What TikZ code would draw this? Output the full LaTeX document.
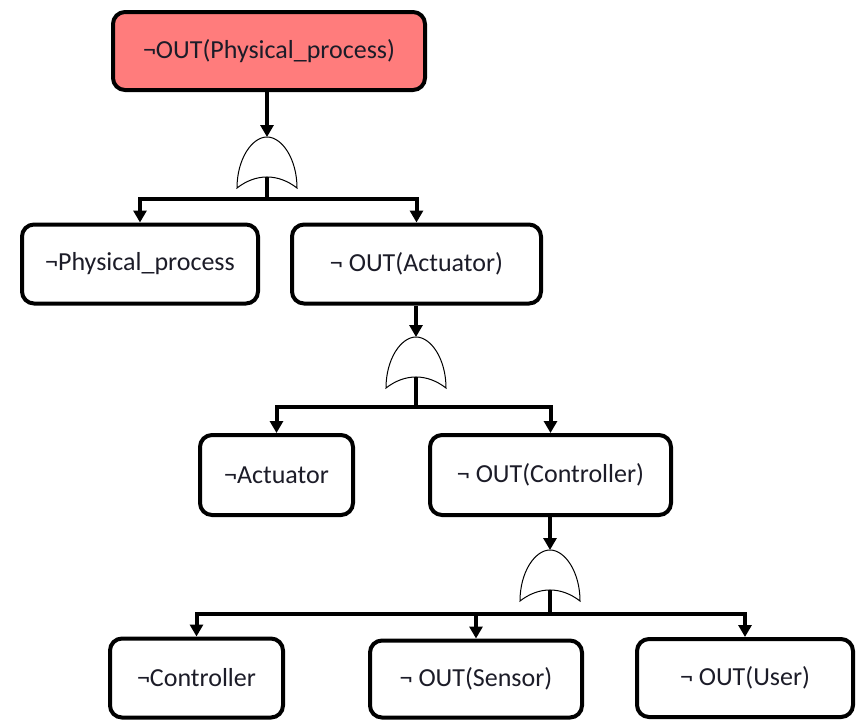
\documentclass[tikz,border=0pt]{standalone}
\usepackage{fontspec}
\setmainfont{Carlito}
\usetikzlibrary{arrows.meta}
\definecolor{topfill}{HTML}{FF7C7C}
\definecolor{txt}{HTML}{1C1C28}
\tikzset{
  box/.style={draw=black, line width=4pt, rounded corners=12pt, fill=white,
    font=\fontsize{26}{30}\selectfont, text=txt, align=center, inner sep=0pt},
  conn/.style={line width=4pt},
  arr/.style={conn, -{Triangle[length=12pt,width=13pt]}},
  orgate/.pic={
    \draw[line width=1pt, fill=white]
      (-30,51) .. controls (-30,22) and (-15,0) .. (0,0)
      .. controls (15,0) and (30,22) .. (30,51)
      .. controls (11,36.3) and (-11,36.3) .. cycle;
  }
}
\begin{document}
\begin{tikzpicture}[x=1pt,y=-1pt]
\useasboundingbox (0,0) rectangle (856,721);

% event boxes
\node[box, fill=topfill, minimum width=312pt, minimum height=78pt] (top) at (269,51) {¬OUT(Physical\_process)};
\node[box, minimum width=236pt, minimum height=79pt] (pp) at (140,264) {¬Physical\_process};
\node[box, minimum width=249pt, minimum height=79pt] (oact) at (416.5,264) {¬ OUT(Actuator)};
\node[box, minimum width=153pt, minimum height=80pt] (act) at (276.5,475) {¬Actuator};
\node[box, minimum width=241pt, minimum height=80pt] (octl) at (550.5,475) {¬ OUT(Controller)};
\node[box, minimum width=173pt, minimum height=79pt] (ctl) at (196.5,678) {¬Controller};
\node[box, minimum width=212pt, minimum height=77pt] (osen) at (476,679) {¬ OUT(Sensor)};
\node[box, minimum width=216pt, minimum height=78pt] (ousr) at (745,678) {¬ OUT(User)};

% OR gates: apex and base centre
\coordinate (g1) at (267,137);  \coordinate (g1b) at (267,177);
\coordinate (g2) at (416,337);  \coordinate (g2b) at (416,377);
\coordinate (g3) at (550,550);  \coordinate (g3b) at (550,590);

% junctions below the gates
\coordinate (j1) at (267,199);
\coordinate (j2) at (416,407);
\coordinate (j3) at (550,614);

% connectors
\draw[arr] (top.south -| g1) -- (g1);
\draw[arr] (j1) -| (pp.north);
\draw[arr] (j1) -| (oact.north);

\draw[arr] (oact.south -| g2) -- (g2);
\draw[arr] (j2) -| (act.north);
\draw[arr] (j2) -| (octl.north);

\draw[arr] (octl.south -| g3) -- (g3);
\draw[arr] (j3) -| (ctl.north);
\draw[arr] (j3) -| (osen.north);
\draw[arr] (j3) -| (ousr.north);

% gate symbols with their output stems
\pic at (g1) {orgate};
\pic at (g2) {orgate};
\pic at (g3) {orgate};
\draw[conn] (g1b) -- (j1);
\draw[conn] (g2b) -- (j2);
\draw[conn] (g3b) -- (j3);
\end{tikzpicture}
\end{document}
